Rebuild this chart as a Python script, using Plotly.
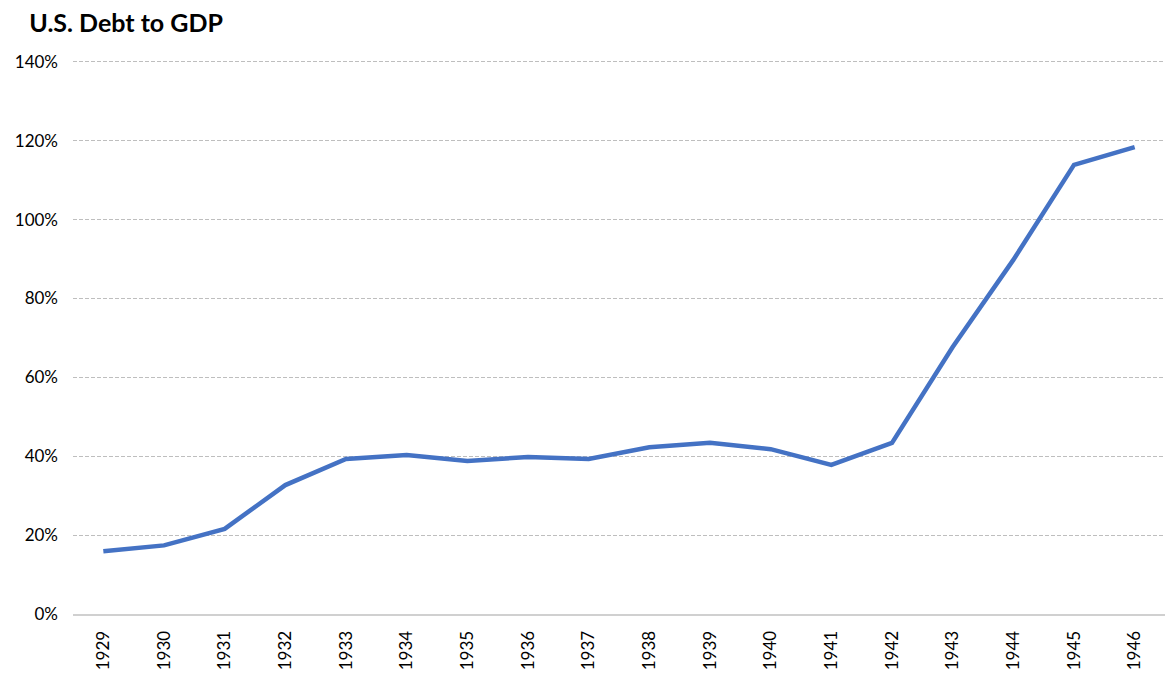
import plotly.graph_objects as go

years = [str(y) for y in range(1929, 1947)]
debt_to_gdp = [0.159, 0.174, 0.216, 0.327, 0.393, 0.403, 0.388, 0.398, 0.393, 0.423, 0.434, 0.418, 0.378, 0.434, 0.677, 0.898, 1.139, 1.184]

fig = go.Figure()
fig.add_trace(go.Scatter(
    x=years, y=debt_to_gdp, mode="lines",
    line=dict(color="#4472C4", width=4.5),
    showlegend=False, hoverinfo="x+y"
))

fig.update_layout(
    width=1172, height=676,
    margin=dict(l=73, r=7, t=58, b=62, autoexpand=False),
    paper_bgcolor="white", plot_bgcolor="white",
    font=dict(family="Lato, 'Open Sans', sans-serif", color="#000000", size=17),
    title=dict(text="<b>U.S. Debt to GDP</b>", x=0.025, xanchor="left", y=0.965, yanchor="middle",
               font=dict(size=25, color="#000000")),
    xaxis=dict(
        type="category", tickangle=-90, showgrid=False, range=[-0.5, 17.5],
        showline=True, linecolor="#D0D0D0", linewidth=2, automargin=False,
        ticks="", ticklen=0, tickfont=dict(size=17), zeroline=False,
        ticklabelstandoff=8,
    ),
    yaxis=dict(
        range=[0, 1.41], tickvals=[0, 0.2, 0.4, 0.6, 0.8, 1.0, 1.2, 1.4],
        tickformat=".0%", showgrid=True, gridcolor="#BEBEBE", griddash="4px,2px",
        gridwidth=1, zeroline=False, showline=False, ticks="", ticklabelstandoff=14,
        tickfont=dict(size=17), automargin=False,
    ),
)

fig.write_html("out.html")
